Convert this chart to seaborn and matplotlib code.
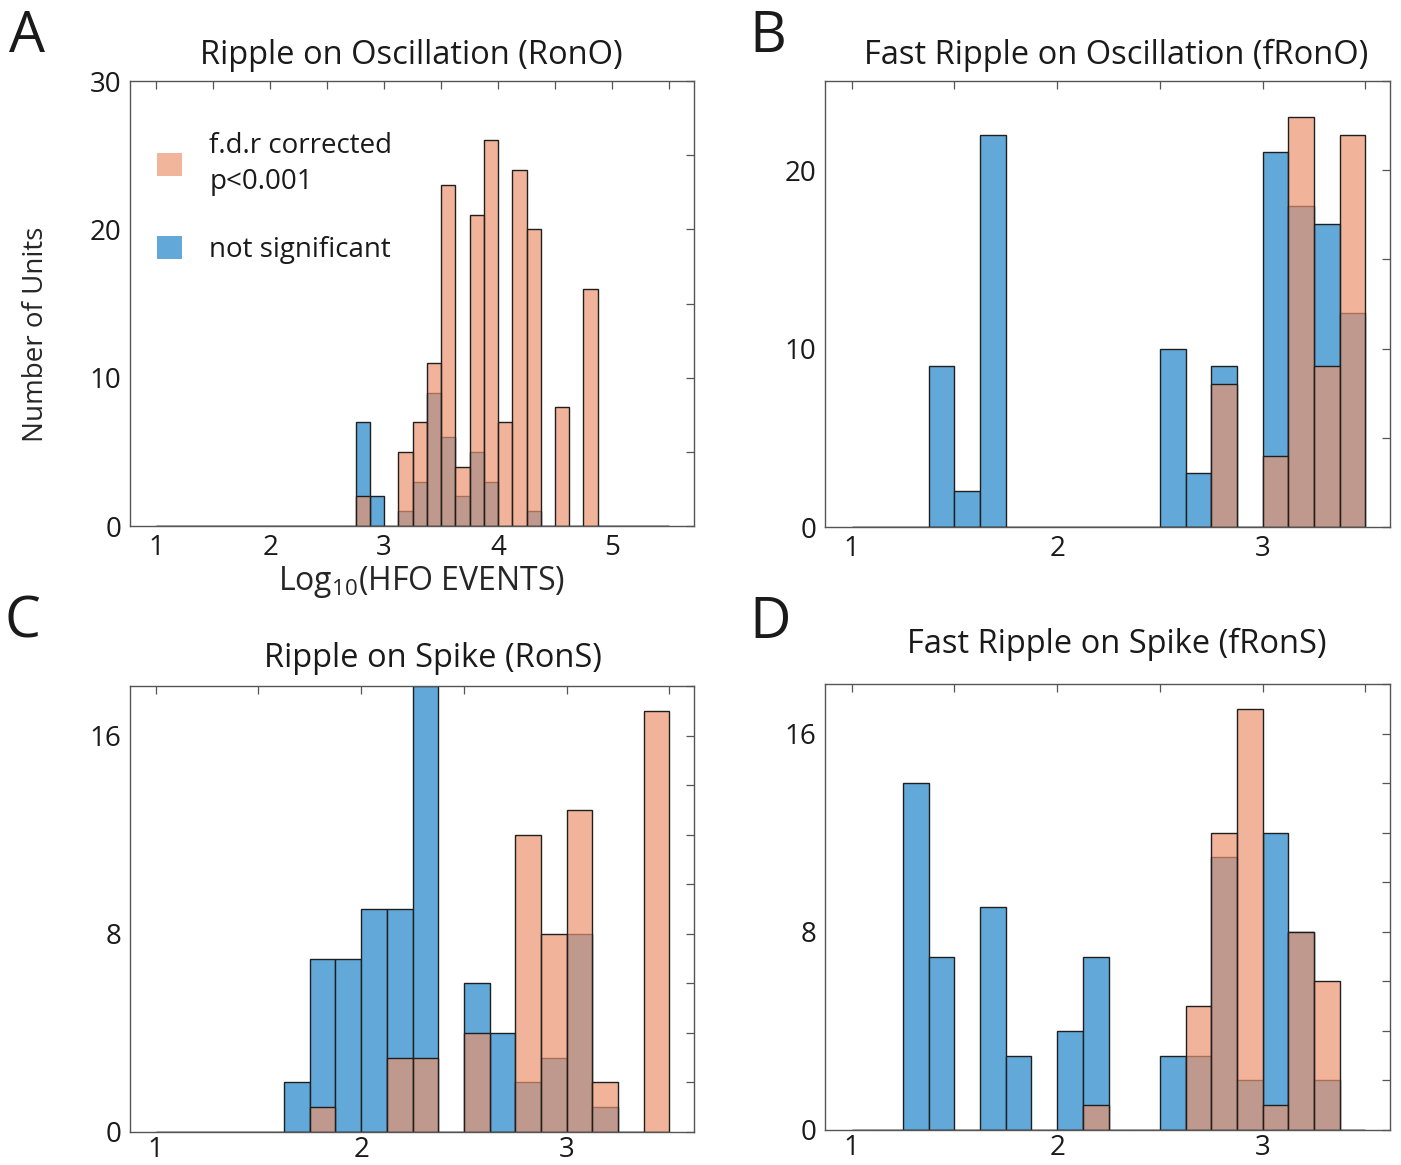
import numpy as np
import pandas as pd
import matplotlib
matplotlib.use("Agg")
import matplotlib.pyplot as plt
import seaborn as sns
from matplotlib.patches import Patch

# bin edges on the log10(HFO events) axis, 0.125 wide
edges_A = np.arange(1.0, 5.5 + 1e-9, 0.125)
edges_B = np.arange(1.0, 3.5 + 1e-9, 0.125)
edges_C = np.arange(1.0, 3.5 + 1e-9, 0.125)
edges_D = np.arange(1.0, 3.5 + 1e-9, 0.125)

# counts per bin: not significant units
ns_A = [0, 0, 0, 0, 0, 0, 0, 0, 0, 0, 0, 0, 0, 0, 7, 2, 0, 1,
        3, 9, 6, 2, 5, 3, 0, 0, 1, 0, 0, 0, 0, 0, 0, 0, 0, 0]
ns_B = [0, 0, 0, 9, 2, 22, 0, 0, 0, 0, 0, 0, 10, 3, 9, 0, 21, 18, 17, 12]
ns_C = [0, 0, 0, 0, 0, 2, 7, 7, 9, 9, 18, 0, 6, 4, 2, 3, 8, 1, 0, 0]
ns_D = [0, 0, 14, 7, 0, 9, 3, 0, 4, 7, 0, 0, 3, 3, 11, 2, 12, 8, 2, 0]

# counts per bin: f.d.r corrected p<0.001
sig_A = [0, 0, 0, 0, 0, 0, 0, 0, 0, 0, 0, 0, 0, 0, 2, 0, 0, 5,
         7, 11, 23, 4, 21, 26, 7, 24, 20, 0, 8, 0, 16, 0, 0, 0, 0, 0]
sig_B = [0, 0, 0, 0, 0, 0, 0, 0, 0, 0, 0, 0, 0, 0, 8, 0, 4, 23, 9, 22]
sig_C = [0, 0, 0, 0, 0, 0, 1, 0, 0, 3, 3, 0, 4, 0, 12, 8, 13, 2, 0, 17]
sig_D = [0, 0, 0, 0, 0, 0, 0, 0, 0, 1, 0, 0, 0, 5, 12, 17, 1, 8, 6, 0]

titles = ["Ripple on Oscillation (RonO)", "Fast Ripple on Oscillation (fRonO)",
          "Ripple on Spike (RonS)", "Fast Ripple on Spike (fRonS)"]
letters = ["A", "B", "C", "D"]

BLUE = "#62A8D8"
SALMON = "#EB936D"
SALMON_ALPHA = 0.69
EDGE = "#1f1f1f"

sns.set_style("white")
plt.rcParams["font.family"] = ["Open Sans", "DejaVu Sans"]
plt.rcParams["mathtext.fontset"] = "custom"
plt.rcParams["mathtext.rm"] = "Open Sans"
plt.rcParams["text.color"] = "#1a1a1a"

fig = plt.figure(figsize=(14.01, 11.65), dpi=100)
W, H = 1401, 1165


def add_axes(left, right, top, bottom):
    return fig.add_axes([left / W, 1 - bottom / H, (right - left) / W, (bottom - top) / H])


axA = add_axes(130, 694, 81, 526)
axB = add_axes(825, 1390, 81, 527)
axC = add_axes(130, 694, 686, 1132)
axD = add_axes(825, 1390, 684, 1130)


def draw_panel(ax, edges, ns, sig):
    centers = (edges[:-1] + edges[1:]) / 2
    df = pd.DataFrame({"center": centers, "ns": ns, "sig": sig})
    sns.histplot(data=df, x="center", weights="ns", bins=list(edges), color=BLUE,
                 alpha=1.0, edgecolor=EDGE, linewidth=1.0, ax=ax)
    sns.histplot(data=df, x="center", weights="sig", bins=list(edges), color=SALMON,
                 alpha=SALMON_ALPHA, edgecolor=EDGE, linewidth=1.0, ax=ax)
    ax.set_xlabel("")
    ax.set_ylabel("")
    for s in ax.spines.values():
        s.set_color("#555555")
        s.set_linewidth(1.0)
    ax.tick_params(direction="in", top=True, right=True, length=6, width=0.9,
                   color="#555555", labelsize=20, labelcolor="#1a1a1a", pad=6)


def set_ticks(ax, xmax, ymax, ystep, ylab_every):
    xt = np.arange(1.0, xmax + 1e-9, 0.5)
    ax.set_xticks(xt)
    ax.set_xticklabels([str(int(v)) if v == int(v) else "" for v in xt])
    yt = np.arange(0, ymax + 1e-9, ystep)
    ax.set_yticks(yt)
    ax.set_yticklabels([str(int(v)) if int(v) % ylab_every == 0 else "" for v in yt])


draw_panel(axA, edges_A, ns_A, sig_A)
axA.set_xlim(0.77, 5.72)
axA.set_ylim(0, 30)
set_ticks(axA, 5.5, 30, 5, 10)

draw_panel(axB, edges_B, ns_B, sig_B)
axB.set_xlim(0.87, 3.62)
axB.set_ylim(0, 25)
set_ticks(axB, 3.5, 25, 5, 10)

draw_panel(axC, edges_C, ns_C, sig_C)
axC.set_xlim(0.875, 3.62)
axC.set_ylim(0, 18)
set_ticks(axC, 3.5, 18, 2, 8)

draw_panel(axD, edges_D, ns_D, sig_D)
axD.set_xlim(0.87, 3.62)
axD.set_ylim(0, 18)
set_ticks(axD, 3.5, 18, 2, 8)

# bottom row: keep the tick numbers inside the canvas
for ax in (axC, axD):
    ax.tick_params(axis="x", pad=3)

# titles
axA.set_title(titles[0], fontsize=23.5, x=0.498, pad=12)
axB.set_title(titles[1], fontsize=23.5, x=0.515, pad=12)
axC.set_title(titles[2], fontsize=23.5, x=0.537, pad=14)
axD.set_title(titles[3], fontsize=23.5, x=0.517, pad=22)

# axis labels only on panel A
axA.set_ylabel("Number of Units", fontsize=20)
axA.yaxis.set_label_coords(-0.141, 0.43)
axA.set_xlabel("Log$_\\mathregular{10}$(HFO EVENTS)", fontsize=23, labelpad=4)
axA.xaxis.set_label_coords(0.516, -0.085)

# legend
leg_handles = [Patch(facecolor="#F1B59B", edgecolor="none"),
               Patch(facecolor=BLUE, edgecolor="none")]
leg = axA.legend(leg_handles, ["f.d.r corrected\np<0.001", "not significant"],
                 loc="upper left", bbox_to_anchor=(0.047, 0.885), frameon=False,
                 fontsize=20, handlelength=0.9, handleheight=0.9, handletextpad=1.0,
                 labelspacing=1.45, borderpad=0, borderaxespad=0)
for t in leg.get_texts():
    t.set_linespacing(1.35)

# panel letters
for letter, (x, y) in zip(letters, [(9, 52), (749, 52), (5, 638), (749, 638)]):
    fig.text(x / W, 1 - y / H, letter, fontsize=41, ha="left", va="baseline")

fig.savefig("out.png", dpi=100)
